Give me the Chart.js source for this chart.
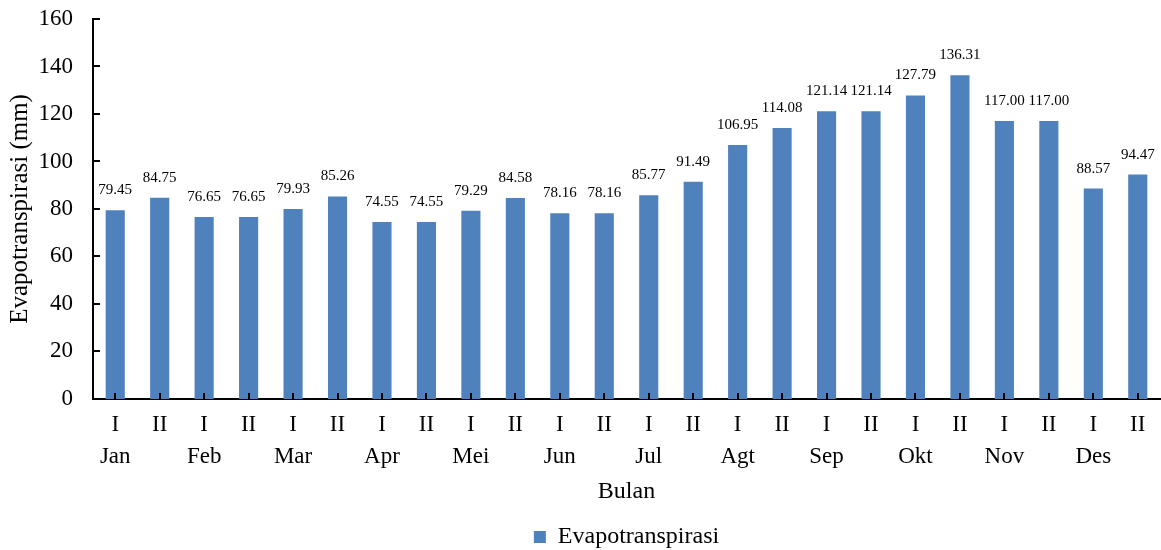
<!DOCTYPE html>
<html>
<head>
<meta charset="utf-8">
<script src="https://cdn.jsdelivr.net/npm/chart.js@4.4.0/dist/chart.umd.min.js"></script>
<style>
  html, body { margin: 0; padding: 0; background: #fff; }
  #wrap { width: 1161px; height: 550px; }
</style>
</head>
<body>
<div id="wrap"><canvas id="etChart"></canvas></div>
<script>
const periods = ['I', 'II', 'I', 'II', 'I', 'II', 'I', 'II', 'I', 'II', 'I', 'II',
                 'I', 'II', 'I', 'II', 'I', 'II', 'I', 'II', 'I', 'II', 'I', 'II'];
const months = ['Jan', '', 'Feb', '', 'Mar', '', 'Apr', '', 'Mei', '', 'Jun', '',
                'Jul', '', 'Agt', '', 'Sep', '', 'Okt', '', 'Nov', '', 'Des', ''];
const evapotranspirasi = [79.45, 84.75, 76.65, 76.65, 79.93, 85.26, 74.55, 74.55,
                          79.29, 84.58, 78.16, 78.16, 85.77, 91.49, 106.95, 114.08,
                          121.14, 121.14, 127.79, 136.31, 117.00, 117.00, 88.57, 94.47];
const yTicks = [0, 20, 40, 60, 80, 100, 120, 140, 160];

const serif = 'Liberation Serif';

// two-line category labels: period on top, month underneath
const labels = periods.map((p, i) => [p, months[i]]);

// value text above each bar
const valueLabels = {
    id: 'valueLabels',
    afterDatasetsDraw(chart) {
        const ctx = chart.ctx;
        const meta = chart.getDatasetMeta(0);
        ctx.save();
        ctx.font = '15px ' + serif;
        ctx.fillStyle = '#000';
        ctx.textAlign = 'center';
        ctx.textBaseline = 'middle';
        meta.data.forEach((bar, i) => {
            ctx.fillText(evapotranspirasi[i].toFixed(2), bar.x, bar.y - 20);
        });
        ctx.restore();
    }
};

// short tick marks pointing into the plot area
const innerTicks = {
    id: 'innerTicks',
    afterDraw(chart) {
        const ctx = chart.ctx;
        const x = chart.scales.x;
        const y = chart.scales.y;
        ctx.save();
        ctx.strokeStyle = '#000';
        ctx.lineWidth = 2;
        ctx.beginPath();
        y.ticks.forEach((t, i) => {
            const py = Math.round(y.getPixelForTick(i));
            ctx.moveTo(x.left, py);
            ctx.lineTo(x.left + 7, py);
        });
        x.ticks.forEach((t, i) => {
            const px = Math.round(x.getPixelForTick(i));
            ctx.moveTo(px, y.bottom);
            ctx.lineTo(px, y.bottom - 6);
        });
        ctx.stroke();
        ctx.restore();
    }
};

new Chart(document.getElementById('etChart'), {
    type: 'bar',
    data: {
        labels: labels,
        datasets: [{
            label: 'Evapotranspirasi',
            data: evapotranspirasi,
            backgroundColor: '#4F81BD',
            categoryPercentage: 1,
            barPercentage: 0.43
        }]
    },
    options: {
        responsive: true,
        maintainAspectRatio: false,
        animation: false,
        layout: { padding: { top: 19, right: 1, left: 0, bottom: -9 } },
        plugins: {
            tooltip: { enabled: false },
            legend: {
                position: 'bottom',
                fullSize: false,
                labels: {
                    font: { family: serif, size: 24 },
                    color: '#000',
                    boxWidth: 12,
                    boxHeight: 12,
                    padding: 0
                }
            }
        },
        scales: {
            x: {
                afterFit(scale) {
                    scale.paddingLeft = 0;
                    scale.paddingRight = 0;
                },
                grid: { display: false, drawTicks: false },
                border: { display: true, color: '#000', width: 2 },
                ticks: {
                    font: { family: serif, size: 23, lineHeight: 1.35 },
                    color: '#000',
                    padding: 11,
                    maxRotation: 0,
                    autoSkip: false
                },
                title: {
                    display: true,
                    text: 'Bulan',
                    font: { family: serif, size: 24, lineHeight: 1 },
                    color: '#000',
                    padding: { top: -3, bottom: 21 }
                }
            },
            y: {
                min: 0,
                max: 160,
                afterBuildTicks(scale) {
                    scale.ticks = yTicks.map(v => ({ value: v }));
                },
                afterFit(scale) {
                    // fixed axis width; top label overhangs into the layout padding
                    scale.width = 93;
                    scale.paddingTop = 0;
                    scale.paddingBottom = 0;
                },
                grid: { display: false, drawTicks: false },
                border: { display: true, color: '#000', width: 2 },
                ticks: {
                    font: { family: serif, size: 23 },
                    color: '#000',
                    padding: 20
                },
                title: {
                    display: true,
                    text: 'Evapotranspirasi (mm)',
                    font: { family: serif, size: 25 },
                    color: '#000',
                    padding: { top: 5, bottom: 4 }
                }
            }
        }
    },
    plugins: [valueLabels, innerTicks]
});
</script>
</body>
</html>
